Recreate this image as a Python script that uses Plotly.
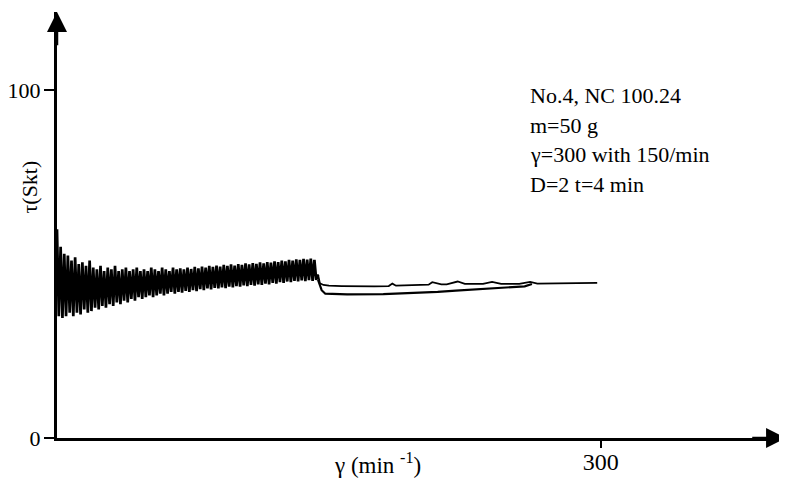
import plotly.graph_objects as go

# ---- data ----
# oscillating start-up signal (shear rate γ in 1/min, τ in Skt)
osc_gamma = [0, 1, 2, 3, 4, 5, 6, 7, 8, 9, 10, 11, 12, 13, 14, 15, 16, 17, 18, 19,
             20, 21, 22, 23, 24, 25, 26, 27, 28, 29, 30, 31, 32, 33, 34, 35, 36, 37, 38, 39,
             40, 41, 42, 43, 44, 45, 46, 47, 48, 49, 50, 51, 52, 53, 54, 55, 56, 57, 58, 59,
             60, 61, 62, 63, 64, 65, 66, 67, 68, 69, 70, 71, 72, 73, 74, 75, 76, 77, 78, 79,
             80, 81, 82, 83, 84, 85, 86, 87, 88, 89, 90, 91, 92, 93, 94, 95, 96, 97, 98, 99,
             100, 101, 102, 103, 104, 105, 106, 107, 108, 109, 110, 111, 112, 113, 114, 115,
             116, 117, 118, 119, 120, 121, 122, 123, 124, 125, 126, 127, 128, 129, 130, 131,
             132, 133, 134, 135, 136, 137, 138, 139, 140, 141, 142, 143, 144]
osc_tau = [60, 35, 55, 34.5, 53, 35, 52.5, 36, 51, 35, 52, 36, 50, 35.5, 50.5, 37, 49.5, 36, 51, 36.5,
           49, 37.5, 48.5, 37, 49.5, 38, 48, 37.5, 49, 38.5, 48.5, 38, 49.5, 39, 48, 38.5, 48.5, 39.5, 49, 39,
           48, 40, 48.5, 39.5, 49, 40.5, 48, 40, 48.5, 40.5, 48, 41, 49, 40.5, 48.5, 41, 48, 41.5, 49, 41,
           48.5, 41.5, 48, 42, 49, 41.5, 48.5, 42, 48.8, 41.8, 48.5, 42.3, 49, 42, 48.6, 42.5, 49.2, 42.2, 48.8, 42.8,
           49.3, 42.5, 49, 43, 49.5, 42.7, 49.2, 43.2, 49.6, 43, 49.3, 43.3, 49.8, 43.1, 49.5, 43.5, 49.9, 43.3, 49.6, 43.7,
           50, 43.5, 49.8, 43.9, 50.2, 43.7, 49.9, 44, 50.3, 43.8, 50.1, 44.2, 50.5, 44, 50.2, 44.4,
           50.6, 44.2, 50.4, 44.6, 50.8, 44.4, 50.6, 44.8, 51, 44.6, 50.8, 45, 51.2, 44.8, 51, 45.2,
           51.4, 45, 51.2, 45.3, 51.5, 45.1, 51.3, 45.4, 51.6, 45.2, 51.2, 45.5, 47]

# the two curves after the step down
upper_gamma = [144, 145, 147, 150, 157, 165, 175, 183, 185, 187, 195, 205, 207, 212, 215, 221, 225,
               235, 240, 245, 255, 261, 265, 275, 285, 298]
upper_tau = [47, 44.5, 44.0, 43.8, 43.7, 43.6, 43.6, 43.7, 44.4, 43.8, 43.9, 44.1, 44.8, 44.2, 44.2, 45.0, 44.3,
             44.3, 44.9, 44.3, 44.3, 44.9, 44.4, 44.4, 44.5, 44.6]
lower_gamma = [144, 146, 148, 160, 180, 200, 210, 220, 240, 250, 258, 262]
lower_tau = [45.5, 42.5, 41.5, 41.3, 41.4, 41.7, 42.0, 42.4, 43.0, 43.2, 43.6, 44.3]

x_ticks = [300]
y_ticks = [0, 100]
x_range = [0, 402.7]
y_range = [0, 122.5]

info_lines = ["No.4, NC 100.24", "m=50 g", "γ=300 with 150/min", "D=2 t=4 min"]
info_y = [98.6, 90.0, 81.4, 72.8]

FONT = "Liberation Serif"

fig = go.Figure()
fig.add_trace(go.Scatter(x=osc_gamma, y=osc_tau, mode="lines",
                         line=dict(color="black", width=2.7), hoverinfo="skip"))
fig.add_trace(go.Scatter(x=upper_gamma, y=upper_tau, mode="lines",
                         line=dict(color="black", width=1.8), hoverinfo="skip"))
fig.add_trace(go.Scatter(x=lower_gamma, y=lower_tau, mode="lines",
                         line=dict(color="black", width=2.2), hoverinfo="skip"))

xaxis = dict(range=x_range, showgrid=False, zeroline=False,
             showline=True, linecolor="black", linewidth=3,
             tickmode="array", tickvals=x_ticks, ticktext=[str(v) for v in x_ticks],
             ticks="outside", ticklen=7, tickwidth=2, tickcolor="black",
             tickfont=dict(family=FONT, size=24, color="black"))
yaxis = dict(range=y_range, showgrid=False, zeroline=False,
             showline=True, linecolor="black", linewidth=3,
             tickmode="array", tickvals=y_ticks, ticktext=[str(v) for v in y_ticks],
             ticks="outside", ticklen=10, tickwidth=2, tickcolor="black",
             tickfont=dict(family=FONT, size=22, color="black"))

fig.update_layout(
    width=779, height=475,
    margin=dict(l=46, r=0, t=4, b=45),
    plot_bgcolor="white", paper_bgcolor="white",
    showlegend=False,
    font=dict(family=FONT, color="black", size=22),
    xaxis=xaxis, yaxis=yaxis,
)
try:
    fig.update_layout(xaxis_ticklabelstandoff=-7, yaxis_ticklabelstandoff=-1)
except Exception:
    fig.update_layout(xaxis_ticklen=4)

# axis arrowheads
fig.add_annotation(x=0, y=y_range[1], ax=0, ay=y_range[1] - 10, xref="x", yref="y",
                   axref="x", ayref="y", showarrow=True, arrowhead=2, arrowsize=1.6,
                   arrowwidth=2.5, arrowcolor="black", text="")
fig.add_annotation(x=x_range[1] - 0.5, y=0, ax=x_range[1] - 20, ay=0, xref="x", yref="y",
                   axref="x", ayref="y", showarrow=True, arrowhead=2, arrowsize=1.6,
                   arrowwidth=2.5, arrowcolor="black", text="")

# axis titles
fig.add_annotation(x=-0.038, y=72.1, xref="paper", yref="y", text="τ(Skt)",
                   textangle=-90, showarrow=False, xanchor="center", yanchor="middle",
                   font=dict(family=FONT, size=22, color="black"))
fig.add_annotation(x=177, y=-0.059, xref="x", yref="paper", text="γ (min <sup>-1</sup>)",
                   showarrow=False, xanchor="center", yanchor="middle",
                   font=dict(family=FONT, size=23, color="black"))

for txt, yy in zip(info_lines, info_y):
    fig.add_annotation(x=260, y=yy, xref="x", yref="y", text=txt, showarrow=False,
                       xanchor="left", yanchor="middle",
                       font=dict(family=FONT, size=22, color="black"))

fig.write_html("out.html")
